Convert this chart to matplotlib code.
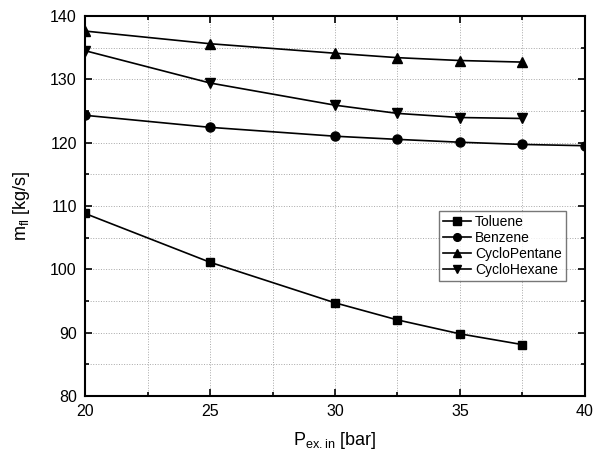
import matplotlib
matplotlib.use('Agg')
import matplotlib.pyplot as plt
from matplotlib.ticker import MultipleLocator

plt.rcParams['font.family'] = ['Liberation Sans', 'DejaVu Sans']
plt.rcParams['mathtext.fontset'] = 'custom'
plt.rcParams['mathtext.rm'] = 'Liberation Sans'

P_IN = [20, 25, 30, 32.5, 35, 37.5]
P_IN_BENZ = [20, 25, 30, 32.5, 35, 37.5, 40]

toluene = [108.8, 101.1, 94.7, 92.0, 89.8, 88.1]
benzene = [124.3, 122.4, 121.0, 120.5, 120.05, 119.7, 119.5]
cyclopentane = [137.6, 135.6, 134.1, 133.4, 132.95, 132.7]
cyclohexane = [134.5, 129.4, 125.9, 124.6, 123.95, 123.8]

fig = plt.figure(figsize=(5.95, 4.53), dpi=100)
ax = fig.add_axes([0.143, 0.126, 0.84, 0.839])

ax.plot(P_IN, toluene, '-s', color='black', lw=1.2, ms=6, label='Toluene')
ax.plot(P_IN_BENZ, benzene, '-o', color='black', lw=1.2, ms=6.5, label='Benzene')
ax.plot(P_IN, cyclopentane, '-^', color='black', lw=1.2, ms=6.5, label='CycloPentane')
ax.plot(P_IN, cyclohexane, '-v', color='black', lw=1.2, ms=6.5, label='CycloHexane')

ax.set_xlim(20, 40)
ax.set_ylim(80, 140)
ax.xaxis.set_major_locator(MultipleLocator(5))
ax.xaxis.set_minor_locator(MultipleLocator(2.5))
ax.yaxis.set_major_locator(MultipleLocator(10))
ax.yaxis.set_minor_locator(MultipleLocator(5))

ax.grid(which='both', color='#A8A8A8', linestyle=':', linewidth=0.7)
ax.set_axisbelow(True)
ax.tick_params(which='both', direction='in', top=True, right=True, labelsize=11.5)
ax.tick_params(axis='x', which='major', pad=6)
ax.tick_params(axis='y', which='major', pad=6)
ax.tick_params(which='major', length=5, width=1.2)
ax.tick_params(which='minor', length=3, width=1.2)
for sp in ax.spines.values():
    sp.set_linewidth(1.5)

ax.set_xlabel(r'P$_{\mathregular{ex.in}}$ [bar]', fontsize=13, labelpad=8)
ax.set_ylabel(r'm$_{\mathregular{fl}}$ [kg/s]', fontsize=13, labelpad=13)

leg = ax.legend(loc='upper right', bbox_to_anchor=(0.962, 0.487), fontsize=10,
                frameon=True, fancybox=False, edgecolor='#555555',
                handlelength=2.0, borderpad=0.3, labelspacing=0.15,
                handletextpad=0.3, borderaxespad=0, markerscale=0.85)
leg.get_frame().set_linewidth(1.0)

plt.savefig('out.png', dpi=100)
